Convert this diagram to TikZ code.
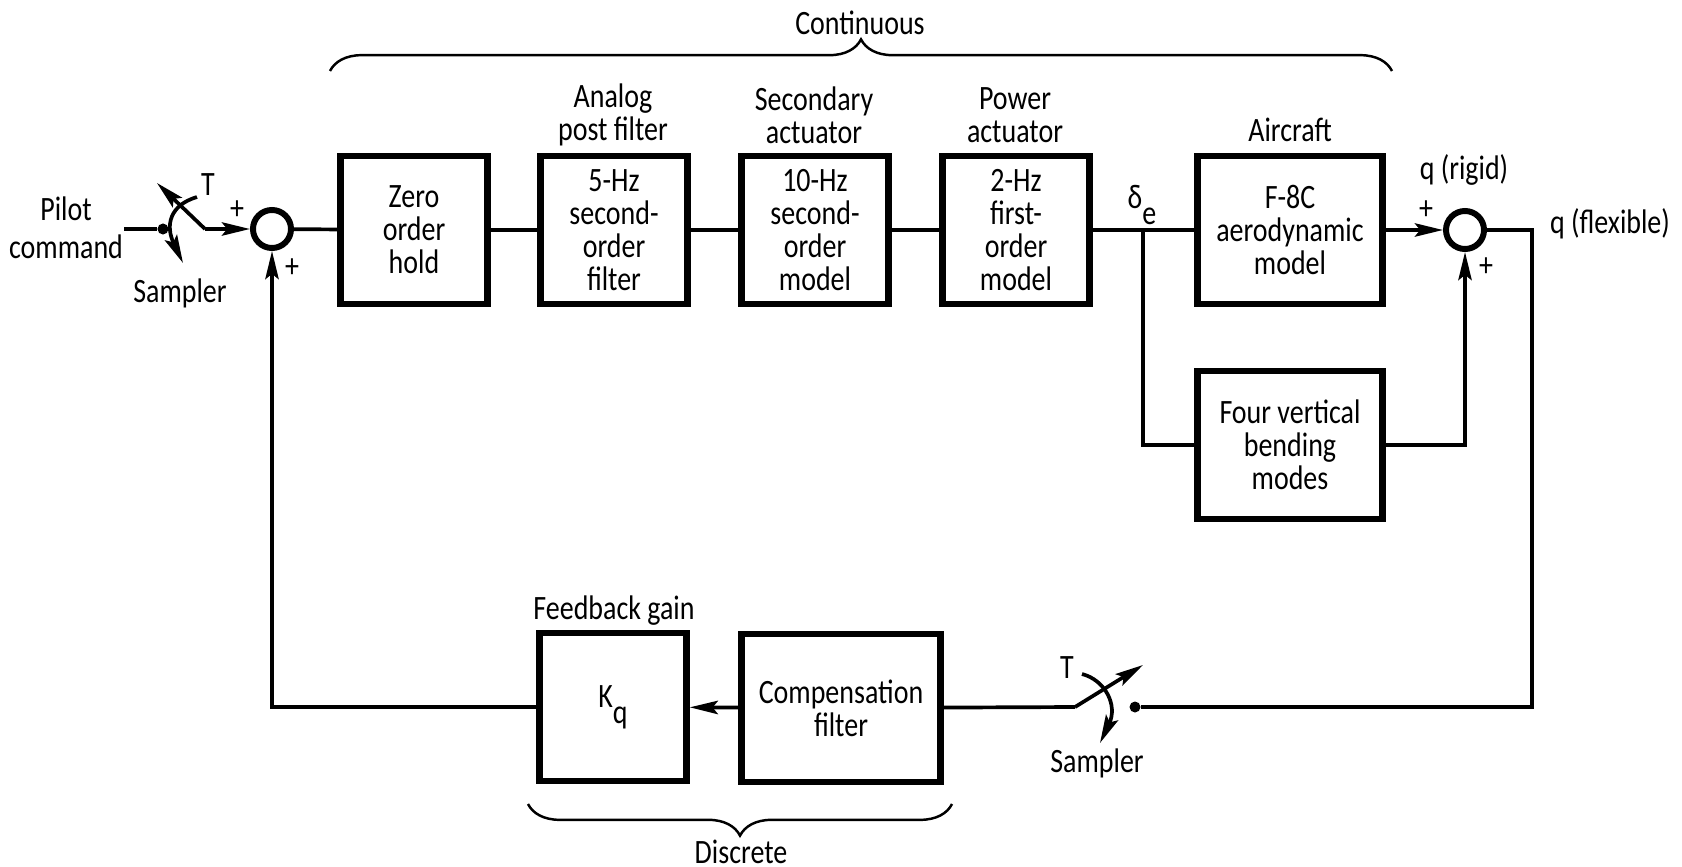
\documentclass[tikz,border=0pt]{standalone}
\usepackage{fontspec}
\setmainfont[FakeStretch=0.82]{Carlito}
\usetikzlibrary{arrows.meta,decorations.pathreplacing}
\tikzset{
	blockbox/.style={draw,line width=1.8pt,align=center,inner sep=0pt,minimum width=1.47cm,minimum height=1.48cm},
	sumnode/.style={draw,circle,line width=1.7pt,inner sep=0pt,minimum size=.38cm},
	contact/.style={fill,circle,inner sep=0pt,minimum size=.11cm},
	lbl/.style={align=center,inner sep=0pt},
	sig/.style={line width=1.05pt},
	flow/.style={sig,-{Stealth[length=8pt,width=3.8pt,inset=1.5pt]}},
	curly/.style={line width=.7pt,decorate,decoration={brace,amplitude=9pt}}
}
\begin{document}
\begin{tikzpicture}[x=.01cm,y=-.01cm,font=\fontsize{9.7}{9.4}\selectfont]
	\useasboundingbox (0,0) rectangle (1682,867);
	% forward path
	\node[blockbox] (zoh) at (414,230) {Zero\\order\\hold};
	\node[blockbox] (post) at (614,230) {5-Hz\\second-\\order\\filter};
	\node[blockbox] (sec) at (815,230) {10-Hz\\second-\\order\\model};
	\node[blockbox] (pow) at (1016,230) {2-Hz\\first-\\order\\model};
	\node[blockbox,minimum width=1.85cm] (air) at (1290,230) {F-8C\\aerodynamic\\model};
	\node[blockbox,minimum width=1.85cm] (bend) at (1290,445) {Four vertical\\bending\\modes};
	% feedback path
	\node[blockbox] (gain) at (613,707) {K\raisebox{-1ex}{q}};
	\node[blockbox,minimum width=1.99cm] (comp) at (841,708) {Compensation\\filter};
	\node[sumnode] (sum1) at (272,229) {};
	\node[sumnode] (sum2) at (1465,230) {};
	% switches
	\coordinate (pin) at (124,229);
	\node[contact] (c1) at (163,229) {};
	\coordinate (k1) at (205,229);
	\coordinate (t1) at (157,183);
	\coordinate (a1) at (197,197);
	\coordinate (b1) at (183,263);
	\node[contact] (c2) at (1135,707) {};
	\coordinate (k2) at (1075,707);
	\coordinate (t2) at (1143,665);
	\coordinate (a2) at (1082,674);
	\coordinate (b2) at (1100,743);
	% corners
	\coordinate (de) at (1143,230);
	\coordinate (de2) at (1143,445);
	\coordinate (r1) at (1532,230);
	\coordinate (r2) at (1532,707);
	\coordinate (l1) at (272,707);
	\coordinate (bd1) at (1465,445);
	% labels
	\node[lbl] at (860,23) {Continuous};
	\node[lbl] at (613,115) {Analog\\post filter};
	\node[lbl] at (814,115) {Secondary\\actuator};
	\node[lbl] at (1015,115) {Power\\actuator};
	\node[lbl] at (1290,130) {Aircraft};
	\node[lbl] at (66,228) {Pilot\\[1.5pt]command};
	\node[lbl] at (180,293) {Sampler};
	\node[lbl] at (1097,763) {Sampler};
	\node[lbl] at (208,185) {T};
	\node[lbl] at (1067,668) {T};
	\node[lbl] at (237,210) {+};
	\node[lbl] at (292,268) {+};
	\node[lbl] at (1426,210) {+};
	\node[lbl] at (1486,267) {+};
	\node[lbl] at (1142,205) {δ\raisebox{-1ex}{e}};
	\node[lbl] at (1464,170) {q (rigid)};
	\node[lbl] at (1610,224) {q (flexible)};
	\node[lbl] at (614,611) {Feedback gain};
	\node[lbl] at (741,852) {Discrete};
	% connectors
	\draw[sig] (pin) -- (c1);
	\draw[flow] (k1) -- (sum1);
	\draw[flow] (k1) -- (t1);
	\draw[flow] (a1) .. controls (170,205) and (165,225) .. (b1);
	\draw[sig] (sum1) -- (zoh);
	\draw[sig] (zoh) -- (post);
	\draw[sig] (post) -- (sec);
	\draw[sig] (sec) -- (pow);
	\draw[sig] (pow) -- (air);
	\draw[flow] (air) -- (sum2);
	\draw[sig] (de) -- (de2) -- (bend);
	\draw[flow] (bend) -- (bd1) -- (sum2);
	\draw[sig] (sum2) -- (r1) -- (r2) -- (c2);
	\draw[flow] (k2) -- (t2);
	\draw[flow] (a2) .. controls (1105,680) and (1118,705) .. (b2);
	\draw[sig] (k2) -- (comp);
	\draw[flow] (comp) -- (gain);
	\draw[flow] (gain) -- (l1) -- (sum1);
	\draw[curly] (330,71) -- (1392,71);
	\draw[curly] (952,804) -- (528,804);
\end{tikzpicture}
\end{document}
